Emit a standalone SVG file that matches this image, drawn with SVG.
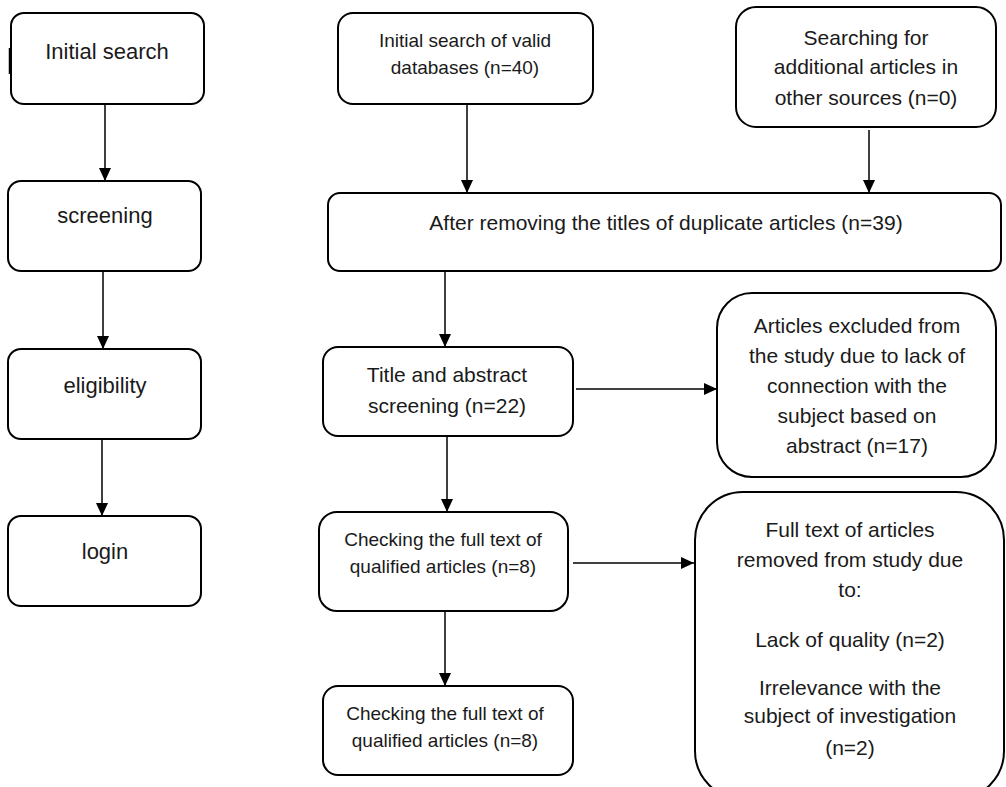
<svg xmlns="http://www.w3.org/2000/svg" width="1006" height="787" viewBox="0 0 1006 787">
<style>
.box{fill:#fff;stroke:#000;stroke-width:2}
.t{font-family:"Liberation Sans",Arial,sans-serif;fill:#1a1a1a;text-anchor:middle}
.c{stroke:#000;stroke-width:1.5;fill:none}
</style>
<defs>
<marker id="ah" markerUnits="userSpaceOnUse" markerWidth="13" markerHeight="13" viewBox="0 0 13 12" refX="13" refY="6" orient="auto">
<path d="M0,0 L13,6 L0,12 Z" fill="#000"/>
</marker>
</defs>
<rect width="1006" height="787" fill="#fff"/>
<g id="connectors">
<line class="c" x1="105" y1="104" x2="105" y2="181" marker-end="url(#ah)"/>
<line class="c" x1="103" y1="271" x2="103" y2="349" marker-end="url(#ah)"/>
<line class="c" x1="102" y1="439" x2="102" y2="516" marker-end="url(#ah)"/>
<line class="c" x1="467" y1="104" x2="467" y2="193" marker-end="url(#ah)"/>
<line class="c" x1="869" y1="130" x2="869" y2="193" marker-end="url(#ah)"/>
<line class="c" x1="445" y1="271" x2="445" y2="347" marker-end="url(#ah)"/>
<line class="c" x1="576" y1="389" x2="717" y2="389" marker-end="url(#ah)"/>
<line class="c" x1="447" y1="436" x2="447" y2="512" marker-end="url(#ah)"/>
<line class="c" x1="573" y1="563" x2="694" y2="563" marker-end="url(#ah)"/>
<line class="c" x1="445" y1="611" x2="445" y2="686" marker-end="url(#ah)"/>
</g>
<g id="initial-search">
<rect class="box" x="11" y="13" width="193" height="91" rx="13"/>
<line x1="10" y1="48" x2="10" y2="74" stroke="#000" stroke-width="2.5"/>
<text class="t" x="107" y="59" font-size="22">Initial search</text>
</g>
<g id="screening">
<rect class="box" x="8" y="181" width="193" height="90" rx="13"/>
<text class="t" x="105" y="223" font-size="22">screening</text>
</g>
<g id="eligibility">
<rect class="box" x="8" y="349" width="193" height="90" rx="13"/>
<text class="t" x="105" y="393" font-size="22">eligibility</text>
</g>
<g id="login">
<rect class="box" x="8" y="516" width="193" height="90" rx="13"/>
<text class="t" x="105" y="559" font-size="22">login</text>
</g>
<g id="databases">
<rect class="box" x="338" y="13" width="255" height="91" rx="15"/>
<text class="t" x="465" y="47" font-size="19">Initial search of valid</text>
<text class="t" x="465" y="74" font-size="19">databases (n=40)</text>
</g>
<g id="other-sources">
<rect class="box" x="736" y="7" width="260" height="120" rx="20"/>
<text class="t" x="866" y="45" font-size="21">Searching for</text>
<text class="t" x="866" y="74" font-size="21">additional articles in</text>
<text class="t" x="866" y="105" font-size="21">other sources (n=0)</text>
</g>
<g id="duplicates">
<rect class="box" x="328" y="193" width="673" height="78" rx="12"/>
<text class="t" x="666" y="230" font-size="21">After removing the titles of duplicate articles (n=39)</text>
</g>
<g id="title-abstract">
<rect class="box" x="323" y="347" width="250" height="89" rx="15"/>
<text class="t" x="447" y="382" font-size="21">Title and abstract</text>
<text class="t" x="447" y="413" font-size="21">screening (n=22)</text>
</g>
<g id="excluded-abstract">
<rect class="box" x="717" y="293" width="279" height="184" rx="35"/>
<text class="t" x="857" y="333" font-size="21">Articles excluded from</text>
<text class="t" x="857" y="363" font-size="21">the study due to lack of</text>
<text class="t" x="857" y="393" font-size="21">connection with the</text>
<text class="t" x="857" y="423" font-size="21">subject based on</text>
<text class="t" x="857" y="453" font-size="21">abstract (n=17)</text>
</g>
<g id="full-text-1">
<rect class="box" x="319" y="512" width="249" height="99" rx="18"/>
<text class="t" x="443" y="546" font-size="19">Checking the full text of</text>
<text class="t" x="443" y="573" font-size="19">qualified articles (n=8)</text>
</g>
<g id="full-text-removed">
<rect class="box" x="695" y="492" width="309" height="307" rx="48"/>
<text class="t" x="850" y="537" font-size="21">Full text of articles</text>
<text class="t" x="850" y="567" font-size="21">removed from study due</text>
<text class="t" x="850" y="597" font-size="21">to:</text>
<text class="t" x="850" y="647" font-size="21">Lack of quality (n=2)</text>
<text class="t" x="850" y="695" font-size="21">Irrelevance with the</text>
<text class="t" x="850" y="723" font-size="21">subject of investigation</text>
<text class="t" x="850" y="755" font-size="21">(n=2)</text>
</g>
<g id="full-text-2">
<rect class="box" x="323" y="686" width="250" height="89" rx="15"/>
<text class="t" x="445" y="720" font-size="19">Checking the full text of</text>
<text class="t" x="445" y="747" font-size="19">qualified articles (n=8)</text>
</g>
</svg>
